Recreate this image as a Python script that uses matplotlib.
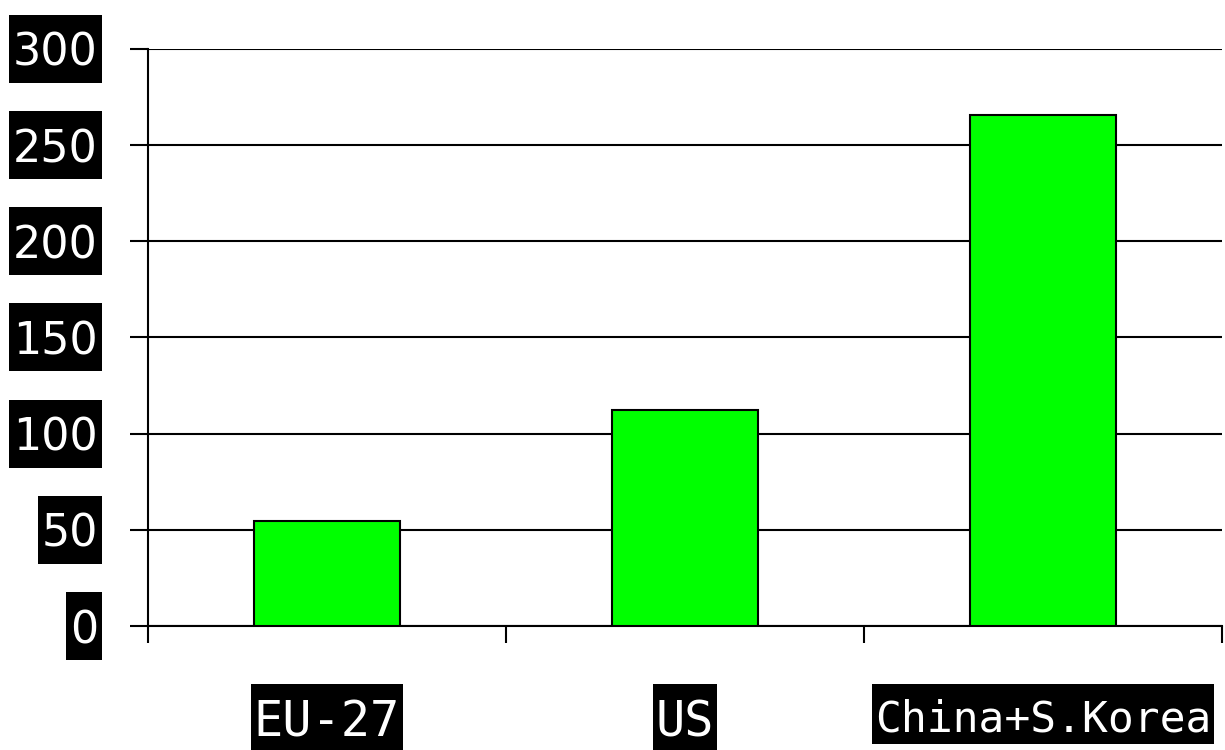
import numpy as np
import matplotlib
matplotlib.use("Agg")
import matplotlib.pyplot as plt
from matplotlib.patches import Rectangle
from matplotlib.transforms import IdentityTransform

# data
regions = ["EU-27", "US", "China+S.Korea"]
values = [54.5, 112.5, 265.5]
yticks = [0, 50, 100, 150, 200, 250, 300]

fig = plt.figure(figsize=(12.25, 7.5), dpi=100)
ax = fig.add_axes([148/1225, 124/750, 1074/1225, 577/750])
ax.patch.set_alpha(0)

x = np.arange(len(regions))
ax.bar(x, values, width=0.41, color="#00ff00", edgecolor="black", linewidth=1.5, zorder=3)

ax.set_xlim(-0.5, 2.5)
ax.set_ylim(0, 300)
ax.set_yticks(yticks)
ax.set_yticklabels([str(v) for v in yticks])
ax.yaxis.grid(True, color="black", linewidth=1.5, zorder=0)
ax.set_axisbelow(True)

for s in ["top", "right"]:
    ax.spines[s].set_visible(False)
ax.spines["left"].set_linewidth(1.5)
ax.spines["bottom"].set_linewidth(1.5)

# y ticks: long outward marks, white-on-black labels
ax.tick_params(axis="y", direction="out", length=13, width=1.5, pad=23,
               labelsize=32, labelcolor="white")
for lbl in ax.get_yticklabels():
    lbl.set_fontfamily("DejaVu Sans")

# x: labels at bar centres, tick marks at category boundaries
ax.set_xticks(x)
ax.set_xticklabels(regions)
ax.set_xticks(np.arange(-0.5, 3.0, 1.0), minor=True)
ax.tick_params(axis="x", which="major", length=0, pad=52, labelcolor="white")
ax.tick_params(axis="x", which="minor", direction="out", length=12, width=1.5)
xsizes = [35, 35, 31]
for lbl, fs in zip(ax.get_xticklabels(), xsizes):
    lbl.set_fontfamily("DejaVu Sans Mono")
    lbl.set_fontsize(fs)

ax.spines["left"].set_bounds(0, 300)

# black boxes behind labels (pads in pixels: left/right, top, bottom)
fig.canvas.draw()
def add_box(lbl, padx, ptop, pbot):
    bb = lbl.get_window_extent()
    fig.patches.append(Rectangle((bb.x0 - padx, bb.y0 - pbot), bb.width + 2*padx,
                                 bb.height + ptop + pbot, facecolor="black", edgecolor="none",
                                 transform=IdentityTransform(), zorder=-1))

for lbl in ax.get_yticklabels():
    add_box(lbl, 4, 17, 8)
for lbl in ax.get_xticklabels():
    add_box(lbl, 3, 14, 4)

fig.savefig("out.png", dpi=100, facecolor="white")
